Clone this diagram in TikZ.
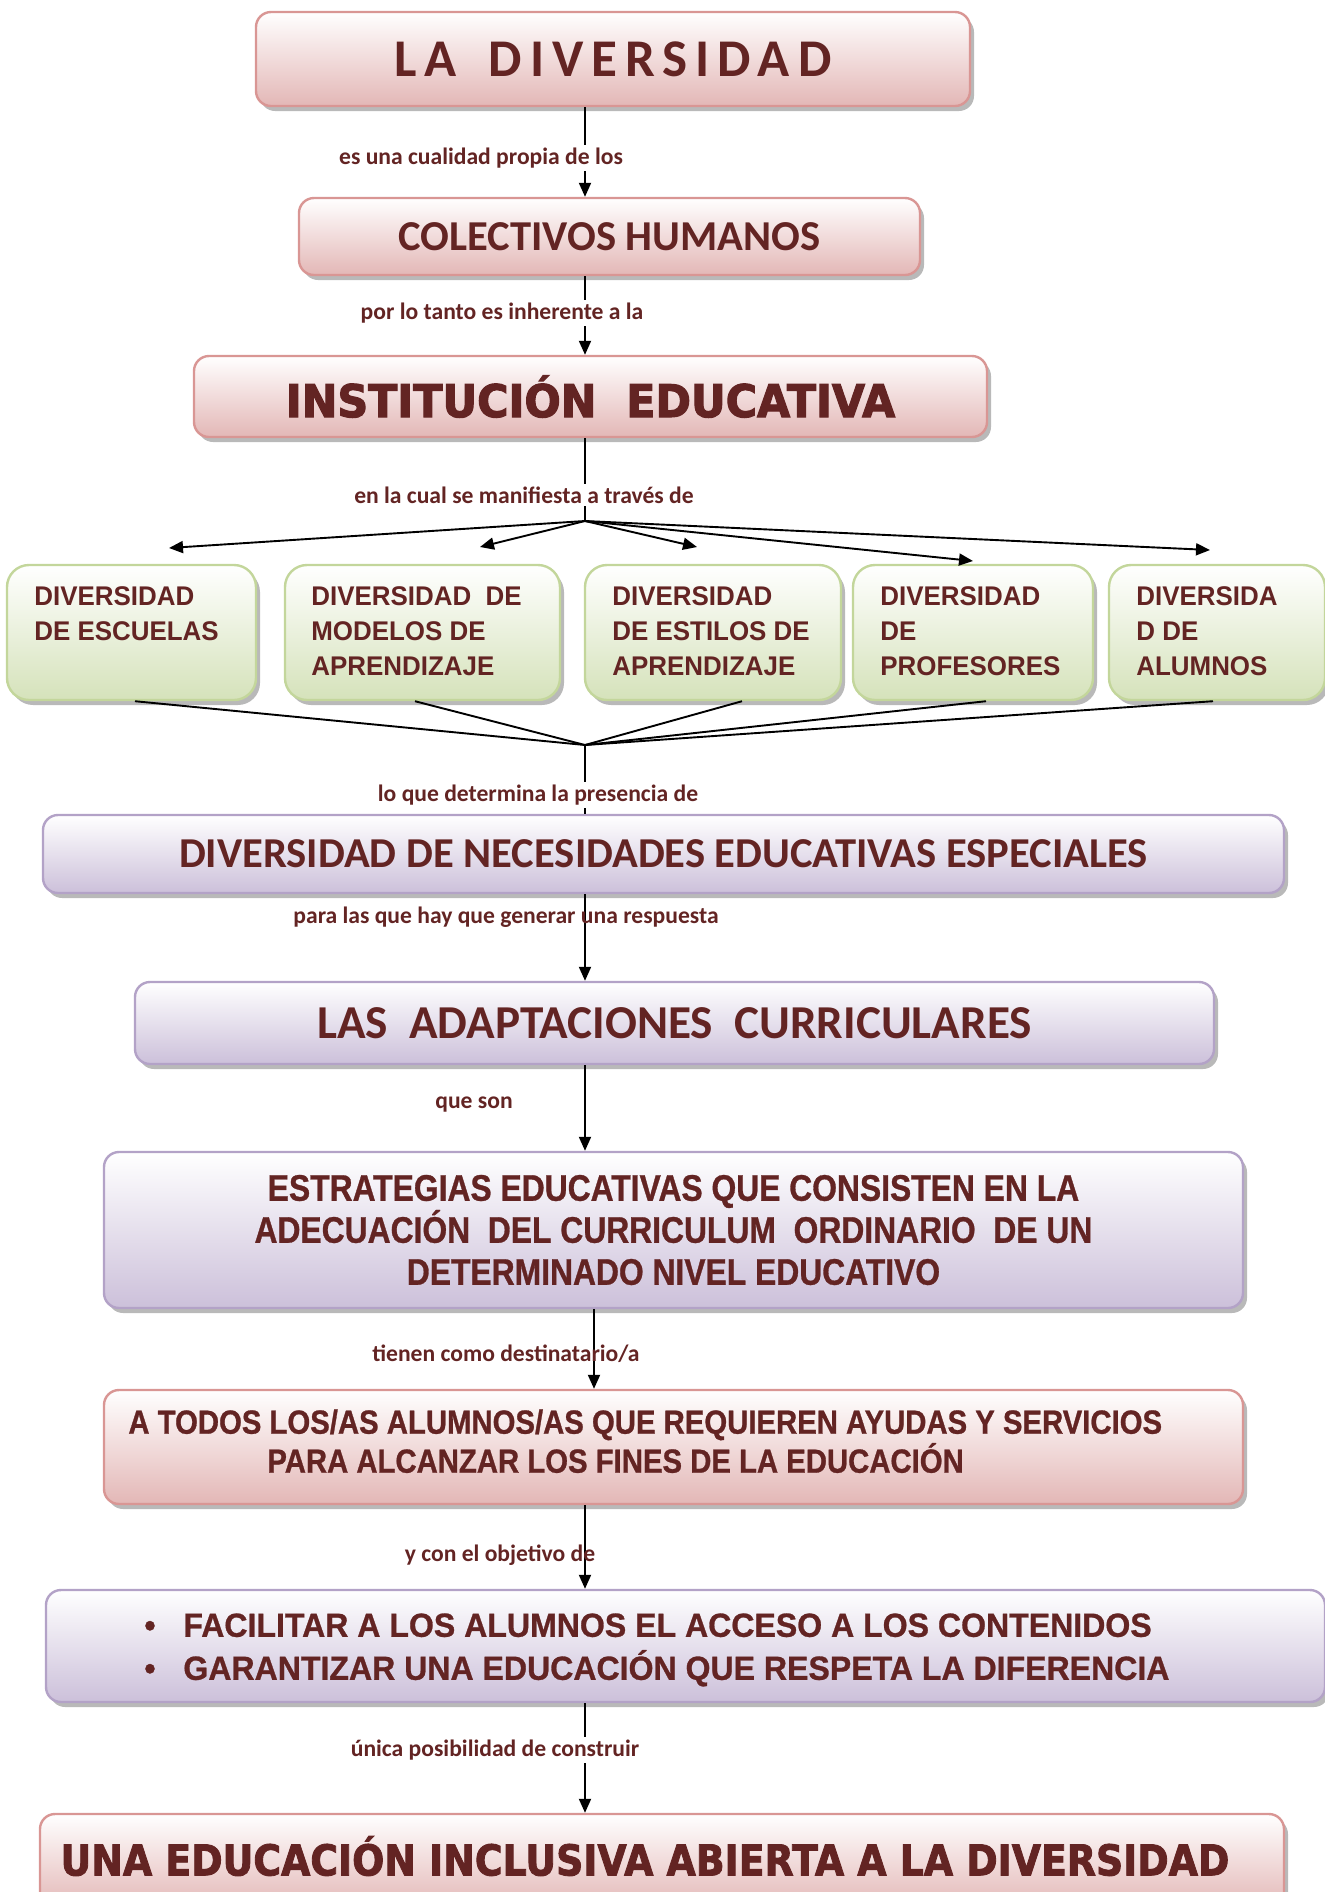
\documentclass[tikz,border=0pt]{standalone}
\usepackage{fontspec}
\usetikzlibrary{arrows.meta,shadows}
\newfontfamily\calf{Carlito}
\newfontfamily\calS{Carlito}[LetterSpace=15]
\newfontfamily\arA{Liberation Sans}[FakeStretch=0.96]
\newfontfamily\arB{Liberation Sans}[FakeStretch=0.86,FakeBold=0.8]
\newfontfamily\arC{Liberation Sans}[FakeStretch=0.875,FakeBold=0.8]
\newfontfamily\arD{Liberation Sans}[FakeStretch=0.957,FakeBold=0.8]
\newfontfamily\dvA{DejaVu Sans}[FakeStretch=0.95,FakeBold=2.5]
\newfontfamily\dvB{DejaVu Sans}[FakeStretch=0.89,FakeBold=2]
\definecolor{txt}{HTML}{632423}
\definecolor{pinkB}{HTML}{D99694}
\definecolor{pinkF}{HTML}{E3B7B6}
\definecolor{greenB}{HTML}{C3D69B}
\definecolor{greenF}{HTML}{D5E2BA}
\definecolor{purB}{HTML}{B3A2C7}
\definecolor{purF}{HTML}{CCC0DA}
\tikzset{
  box/.style={rounded corners=7.5pt, line width=1.2pt, inner sep=0pt, text=txt,
    drop shadow={shadow xshift=2pt, shadow yshift=-2.5pt, fill=gray!55, opacity=1}},
  pbox/.style={box, draw=pinkB, top color=white, bottom color=pinkF},
  gbox/.style={box, rounded corners=11pt, draw=greenB, top color=white, bottom color=greenF},
  ubox/.style={box, draw=purB, top color=white, bottom color=purF},
  gtxt/.style={font=\arA\bfseries\fontsize{13.5pt}{17.5pt}\selectfont, text=txt, align=left, anchor=north west, inner sep=0pt},
  lab/.style={font=\calf\bfseries\fontsize{11.8pt}{14pt}\selectfont, text=txt, inner sep=1.5pt},
  wlab/.style={lab, fill=white},
  ln/.style={line width=0.95pt, black},
  arr/.style={ln, -{Triangle[length=7pt,width=6pt]}}
}
\begin{document}
\begin{tikzpicture}[x=0.5pt,y=-0.5pt]
\useasboundingbox (0,0) rectangle (1325,1892);
% main boxes
\node[pbox, minimum width=357pt, minimum height=47pt, font=\calS\bfseries\fontsize{26.5pt}{30pt}\selectfont] (b1) at (613,59) {LA\hspace{6pt} DIVERSIDAD};
\node[pbox, minimum width=310.5pt, minimum height=38.5pt, font=\calf\bfseries\fontsize{21.3pt}{25pt}\selectfont] (b2) at (609.5,236.5) {COLECTIVOS HUMANOS};
\node[pbox, minimum width=396.5pt, minimum height=40.5pt, font=\dvA\bfseries\fontsize{22.5pt}{26pt}\selectfont] (b3) at (590.5,396.5) {INSTITUCIÓN\ \ EDUCATIVA};
% green boxes
\node[gbox, minimum width=124.5pt, minimum height=67.5pt] (g1) at (131.5,632.5) {};
\node[gbox, minimum width=137.5pt, minimum height=67.5pt] (g2) at (422.5,632.5) {};
\node[gbox, minimum width=128pt, minimum height=67.5pt] (g3) at (713,632.5) {};
\node[gbox, minimum width=120pt, minimum height=67.5pt] (g4) at (973,632.5) {};
\node[gbox, minimum width=108pt, minimum height=67.5pt] (g5) at (1217,632.5) {};
\node[gtxt] (g1t) at (34,586) {DIVERSIDAD\\DE ESCUELAS};
\node[gtxt] (g2t) at (311,586) {DIVERSIDAD\ \ DE\\MODELOS DE\\APRENDIZAJE};
\node[gtxt] (g3t) at (612,586) {DIVERSIDAD\\DE ESTILOS DE\\APRENDIZAJE};
\node[gtxt] (g4t) at (880,586) {DIVERSIDAD\\DE\\PROFESORES};
\node[gtxt] (g5t) at (1136,586) {DIVERSIDA\\D DE\\ALUMNOS};
% lower boxes
\node[ubox, minimum width=620.5pt, minimum height=39pt, font=\calf\bfseries\fontsize{21.3pt}{25pt}\selectfont] (nee) at (663.5,854) {DIVERSIDAD DE NECESIDADES EDUCATIVAS ESPECIALES};
\node[ubox, minimum width=539.5pt, minimum height=41pt, font=\calf\bfseries\fontsize{23.6pt}{27pt}\selectfont] (ad) at (674.5,1023) {LAS\ \ ADAPTACIONES\ \ CURRICULARES};
\node[ubox, minimum width=569.5pt, minimum height=78pt, align=center, font=\arB\bfseries\fontsize{18.5pt}{21pt}\selectfont] (es) at (673.5,1230) {ESTRATEGIAS EDUCATIVAS QUE CONSISTEN EN LA\\ADECUACIÓN\ \ DEL CURRICULUM\ \ ORDINARIO\ \ DE UN\\DETERMINADO NIVEL EDUCATIVO};
\node[pbox, minimum width=569.5pt, minimum height=57pt] (td) at (673.5,1447) {};
\node[gtxt, font=\arC\bfseries\fontsize{16.75pt}{19.5pt}\selectfont] (tdt) at (128,1409) {A TODOS LOS/AS ALUMNOS/AS QUE REQUIEREN AYUDAS Y SERVICIOS\\\hspace*{69.5pt}PARA ALCANZAR LOS FINES DE LA EDUCACIÓN};
\node[ubox, minimum width=639.5pt, minimum height=56pt] (ob) at (685.5,1646) {};
\node[gtxt, font=\arD\bfseries\fontsize{16.75pt}{21.5pt}\selectfont] (obt) at (144,1613) {\makebox[19.5pt][l]{•}FACILITAR A LOS ALUMNOS EL ACCESO A LOS CONTENIDOS\\\makebox[19.5pt][l]{•}GARANTIZAR UNA EDUCACIÓN QUE RESPETA LA DIFERENCIA};
\node[pbox, minimum width=622pt, minimum height=47.5pt] (fi) at (662,1861.5) {};
\node[font=\dvB\bfseries\fontsize{21.25pt}{25pt}\selectfont, text=txt, inner sep=0pt] (fit) at (645,1856) {UNA EDUCACIÓN INCLUSIVA ABIERTA A LA DIVERSIDAD};
% connectors
\coordinate (sp) at (585,0);
\coordinate (sp2) at (594,0);
\draw[arr] (b1.south -| sp) -- (b2.north -| sp);
\draw[arr] (b2.south -| sp) -- (b3.north -| sp);
\coordinate (J) at (585,521);
\draw[ln] (b3.south -| sp) -- (J);
\coordinate (t1) at (169,548);
\coordinate (t2) at (480,547);
\coordinate (t3) at (697,547);
\coordinate (t4) at (973,561);
\coordinate (t5) at (1210,550);
\foreach \t in {t1,t2,t3,t4,t5} \draw[arr] (J) -- (\t);
\coordinate (J2) at (585,745);
\draw[ln] ([xshift=1.75pt]g1.south) -- (J2);
\draw[ln] ([xshift=-3.75pt]g2.south) -- (J2);
\draw[ln] ([xshift=14.5pt]g3.south) -- (J2);
\draw[ln] ([xshift=6.5pt]g4.south) -- (J2);
\draw[ln] ([xshift=-2pt]g5.south) -- (J2);
\draw[ln] (J2) -- (nee.north -| sp);
\draw[arr] (nee.south -| sp) -- (ad.north -| sp);
\draw[arr] (ad.south -| sp) -- (es.north -| sp);
\draw[arr] (es.south -| sp2) -- (td.north -| sp2);
\draw[arr] (td.south -| sp) -- (ob.north -| sp);
\draw[arr] (ob.south -| sp) -- (fi.north -| sp);
% labels
\node[wlab] (l1) at (481,158) {es una cualidad propia de los};
\node[wlab] (l2) at (502,313) {por lo tanto es inherente a la};
\node[wlab] (l3) at (524,495) {en la cual se manifiesta a través de};
\node[wlab] (l4) at (538,795) {lo que determina la presencia de};
\node[lab] (l5) at (506,917) {para las que hay que generar una respuesta};
\node[lab] (l6) at (474,1105) {que son};
\node[lab] (l7) at (506,1354) {tienen como destinatario/a};
\node[lab] (l8) at (500,1555) {y con el objetivo de};
\node[wlab] (l9) at (495,1750) {única posibilidad de construir};
\end{tikzpicture}
\end{document}
